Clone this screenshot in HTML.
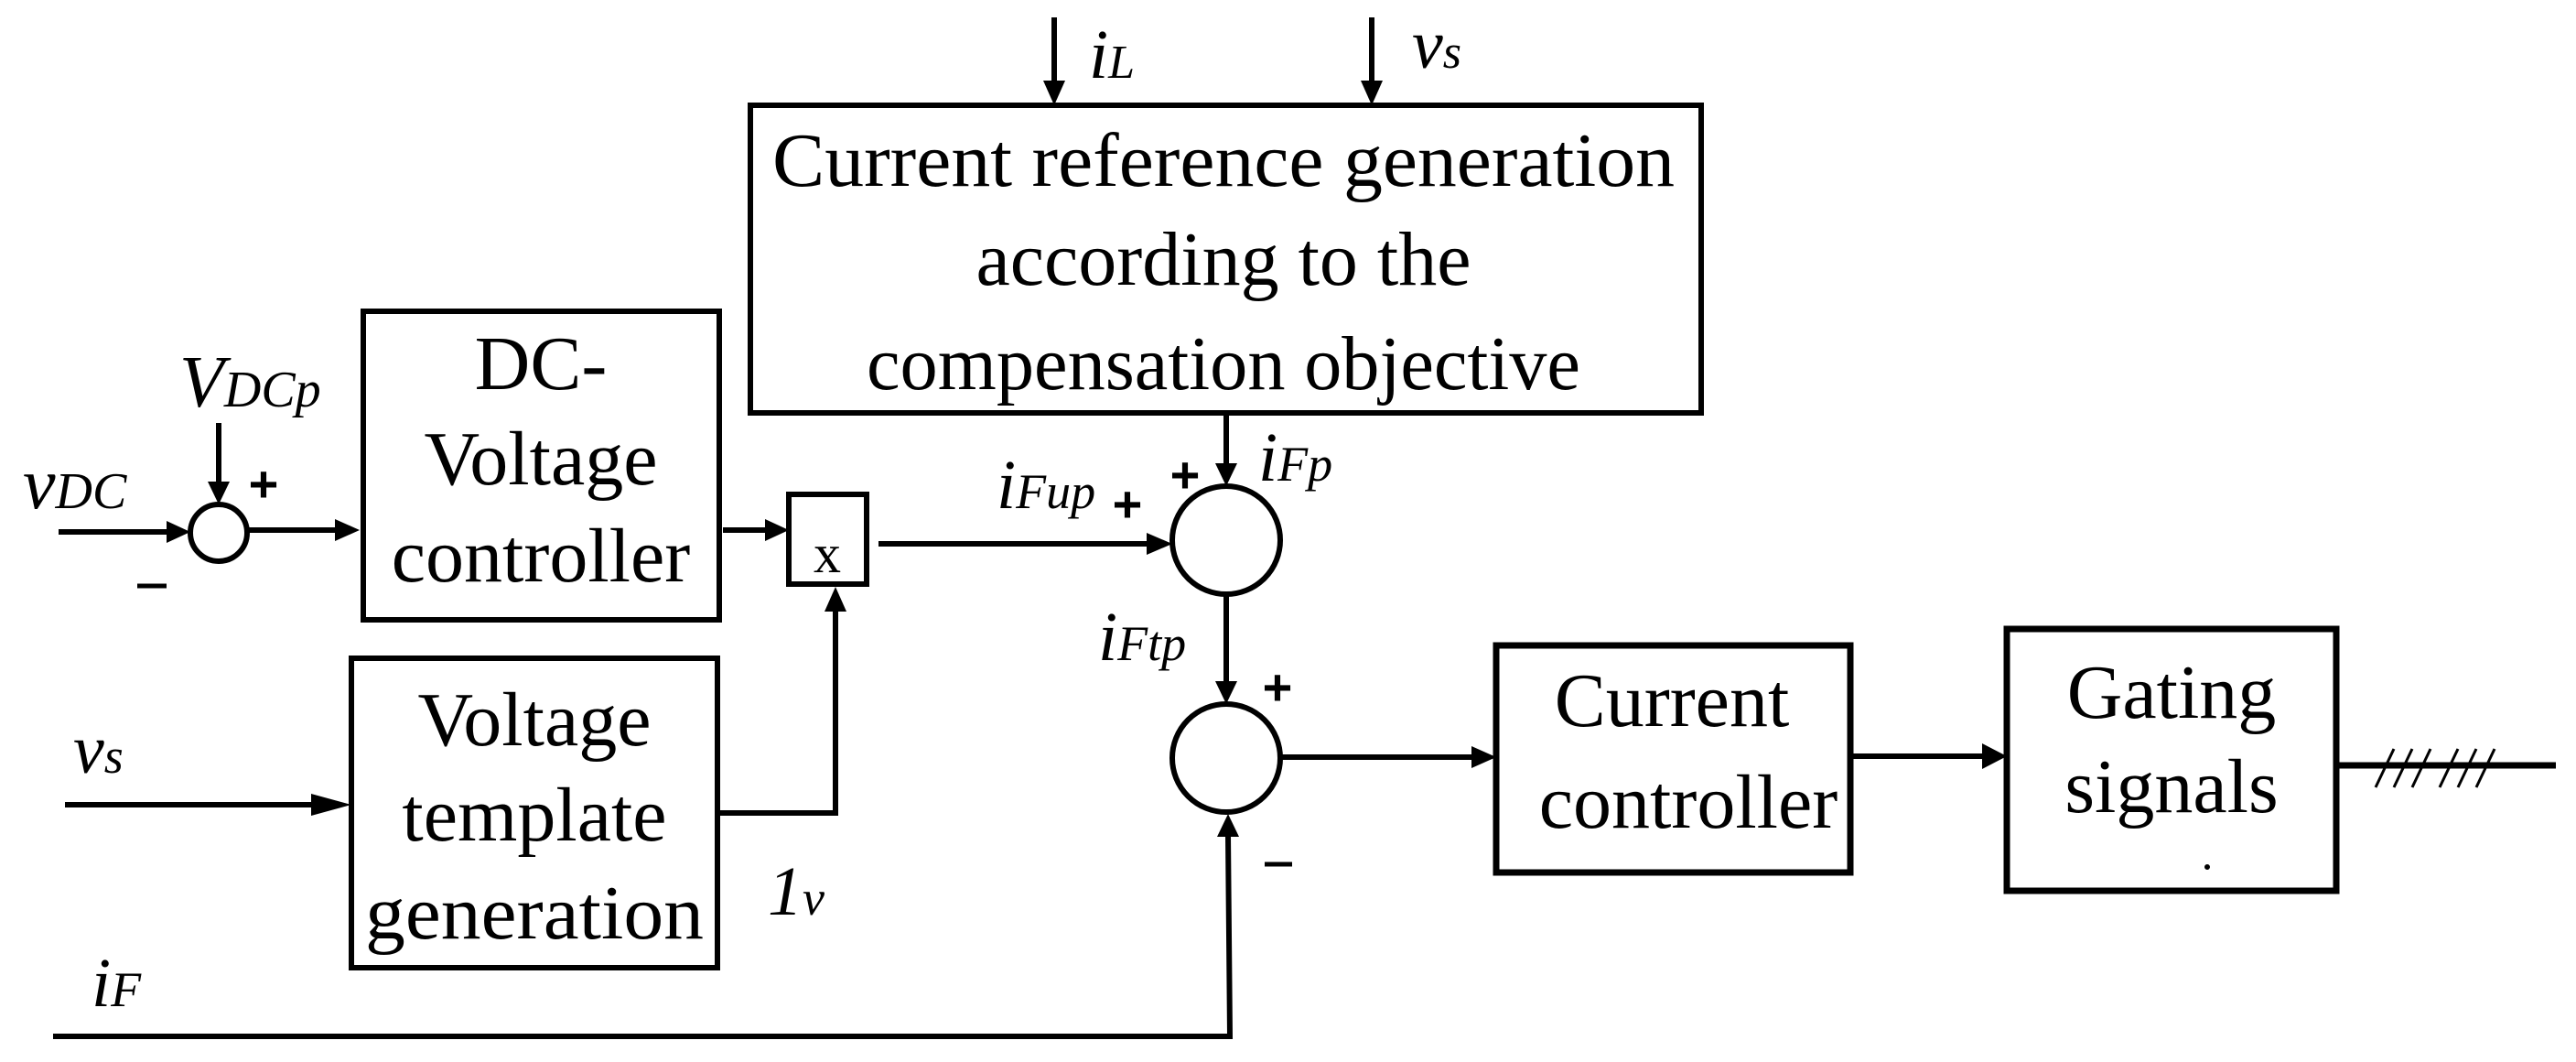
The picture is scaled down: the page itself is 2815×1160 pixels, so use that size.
<!DOCTYPE html>
<html><head><meta charset="utf-8"><style>html,body{margin:0;padding:0;background:#fff}svg{display:block}</style></head>
<body>
<svg width="2815" height="1160" viewBox="0 0 2815 1160" xmlns="http://www.w3.org/2000/svg" font-family="Liberation Serif, serif">
<g stroke="#000" stroke-width="6" fill="none">
<rect x="820" y="115" width="1039" height="336"/>
<rect x="397" y="340" width="389" height="337"/>
<rect x="862" y="540" width="85" height="98"/>
<rect x="384" y="719" width="400" height="338"/>
<rect x="1635" y="705" width="387" height="248" stroke-width="7"/>
<rect x="2193" y="687" width="360" height="286" stroke-width="7"/>
<circle cx="239" cy="582" r="31"/>
<circle cx="1340" cy="590" r="59"/>
<circle cx="1340" cy="828" r="59"/>
<line x1="1152" y1="19" x2="1152" y2="90"/>
<line x1="1499" y1="19" x2="1499" y2="90"/>
<line x1="239" y1="462" x2="239" y2="528"/>
<line x1="64" y1="581" x2="184" y2="581"/>
<line x1="272" y1="579" x2="368" y2="579"/>
<line x1="790" y1="579" x2="838" y2="579"/>
<line x1="960" y1="594" x2="1255" y2="594"/>
<line x1="1340" y1="451" x2="1340" y2="508"/>
<line x1="1340" y1="649" x2="1340" y2="746"/>
<polyline points="784,888 913,888 913,666"/>
<line x1="71" y1="879" x2="342" y2="879"/>
<polyline points="58,1132 1344,1132 1342,912"/>
<line x1="1399" y1="827" x2="1610" y2="827"/>
<line x1="2022" y1="826" x2="2168" y2="826"/>
<line x1="2553" y1="836" x2="2793" y2="836" stroke-width="7"/>
<g stroke-width="3"><line x1="2596" y1="860" x2="2616" y2="818"/><line x1="2616" y1="860" x2="2636" y2="818"/><line x1="2636" y1="860" x2="2656" y2="818"/><line x1="2666" y1="860" x2="2686" y2="818"/><line x1="2686" y1="860" x2="2706" y2="818"/><line x1="2706" y1="860" x2="2726" y2="818"/></g>
</g>
<g fill="#000">
<polygon points="1140,88 1164,88 1152,115"/>
<polygon points="1487,88 1511,88 1499,115"/>
<polygon points="227,526 251,526 239,551"/>
<polygon points="182,569 182,593 208,581"/>
<polygon points="366,567 366,591 393,579"/>
<polygon points="836,567 836,591 862,579"/>
<polygon points="1253,582 1253,606 1281,594"/>
<polygon points="1328,506 1352,506 1340,531"/>
<polygon points="1328,744 1352,744 1340,769"/>
<polygon points="901,668 925,668 913,641"/>
<polygon points="340,867 340,891 384,879"/>
<polygon points="1330,914 1354,914 1342,889"/>
<polygon points="1608,815 1608,839 1635,827"/>
<polygon points="2166,812 2166,840 2193,826"/>
<circle cx="2412" cy="947" r="3"/>
</g>
<g font-size="84" text-anchor="middle">
<text x="1337" y="203" textLength="986" lengthAdjust="spacingAndGlyphs">Current reference generation</text>
<text x="1337" y="311">according to the</text>
<text x="1337" y="425" textLength="780" lengthAdjust="spacingAndGlyphs">compensation objective</text>
<text x="591" y="425">DC-</text>
<text x="591" y="529">Voltage</text>
<text x="591" y="635">controller</text>
<text x="584" y="814">Voltage</text>
<text x="584" y="918">template</text>
<text x="584" y="1025" textLength="370" lengthAdjust="spacingAndGlyphs">generation</text>
<text x="1827" y="793">Current</text>
<text x="1845" y="904">controller</text>
<text x="2373" y="784">Gating</text>
<text x="2373" y="887">signals</text>
<text x="904" y="625" font-size="60">x</text>
</g>
<g font-style="italic" font-size="76">
<text x="1190" y="85">i<tspan font-size="52">L</tspan></text>
<text x="1543" y="74">v<tspan font-size="52">s</tspan></text>
<text x="196" y="444" font-size="80">V<tspan font-size="56">DCp</tspan></text>
<text x="25" y="555" font-size="80">v<tspan font-size="56">DC</tspan></text>
<text x="1089" y="555">i<tspan font-size="54">Fup</tspan></text>
<text x="1375" y="525">i<tspan font-size="54">Fp</tspan></text>
<text x="1200" y="721">i<tspan font-size="54">Ftp</tspan></text>
<text x="80" y="844">v<tspan font-size="54">s</tspan></text>
<text x="839" y="999">1<tspan font-size="54">v</tspan></text>
<text x="100" y="1099">i<tspan font-size="54">F</tspan></text>
</g>
<g font-family="Liberation Sans, sans-serif" font-weight="bold" font-size="56" text-anchor="middle">
<text x="288" y="548">+</text>
<text x="1232" y="570">+</text>
<text x="1295" y="538">+</text>
<text x="1396" y="770">+</text>
</g>
<g stroke="#000" stroke-width="5"><line x1="150" y1="640" x2="182" y2="640"/><line x1="1382" y1="944" x2="1412" y2="944"/></g>
</svg>
</body></html>
